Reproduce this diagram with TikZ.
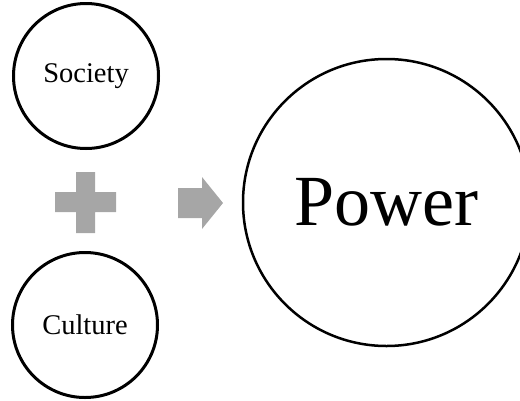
\documentclass[tikz,border=0pt]{standalone}
\usepackage{fontspec}
\setmainfont{Liberation Serif}
\usetikzlibrary{positioning}
\definecolor{plusgray}{RGB}{166,166,166}

\begin{document}
\begin{tikzpicture}[
    x=1pt, y=-1pt,
    circ/.style={circle, draw, line width=3pt, inner sep=0pt, minimum size=145pt, font=\fontsize{28.5}{30}\selectfont},
    bigcirc/.style={circle, draw, line width=2.5pt, inner sep=0pt, minimum size=287pt, font=\fontsize{72}{76}\selectfont},
    sign/.style={fill=plusgray}
]
    \useasboundingbox (0,0) rectangle (520,400);
    \clip (0,0) rectangle (520,400);

    % Circles
    \node[circ] (society) at (86,76) {Society};
    \node[circ] (culture) at (85,325) {Culture};
    \node[bigcirc] (power) at (386.5,202.5) {Power};

    % Plus sign
    \fill[sign] (76,172) -- (95,172) -- (95,192) -- (116,192) -- (116,212) -- (95,212)
        -- (95,233) -- (76,233) -- (76,212) -- (55,212) -- (55,192) -- (76,192) -- cycle;

    % Block arrow
    \fill[sign] (178,188) -- (202,188) -- (202,177) -- (223,203) -- (202,229)
        -- (202,218) -- (178,218) -- cycle;
\end{tikzpicture}
\end{document}
